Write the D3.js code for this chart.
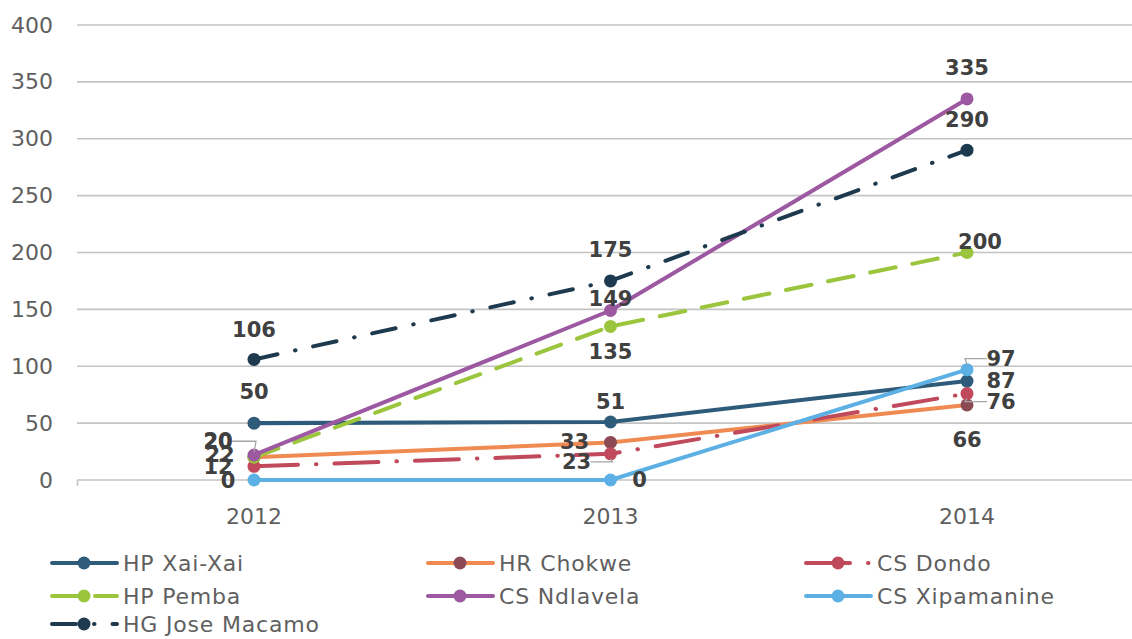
<!DOCTYPE html>
<html>
<head>
<meta charset="utf-8">
<script src="https://cdn.jsdelivr.net/npm/d3@7"></script>
<style>
  html, body { margin: 0; padding: 0; background: #fff; }
  svg { display: block; }
</style>
</head>
<body>
<svg id="chart" width="1132" height="639"></svg>
<script>
// ---- data ----
const years = ["2012", "2013", "2014"];
const seriesNames = ["HP Xai-Xai", "HR Chokwe", "CS Dondo", "HP Pemba", "CS Ndlavela", "CS Xipamanine", "HG Jose Macamo"];
const xaiXai     = [50, 51, 87];
const chokwe     = [20, 33, 66];
const dondo      = [12, 23, 76];
const pemba      = [20, 135, 200];
const ndlavela   = [22, 149, 335];
const xipamanine = [0, 0, 97];
const joseMacamo = [106, 175, 290];
const yTicks = [0, 50, 100, 150, 200, 250, 300, 350, 400];

const seriesValues = [xaiXai, chokwe, dondo, pemba, ndlavela, xipamanine, joseMacamo];

// ---- styles (layout, not data) ----
const styles = [
  { line: "#2E5B7A", marker: "#2E5B7A", dash: null },
  { line: "#EE8A52", marker: "#8B4A54", dash: null },
  { line: "#C0495B", marker: "#C0495B", dash: "44 18 0.5 18" },
  { line: "#9BC53D", marker: "#9BC53D", dash: "26 17" },
  { line: "#9C58A1", marker: "#9C58A1", dash: null },
  { line: "#5DB0E3", marker: "#5DB0E3", dash: null },
  { line: "#1E3A4E", marker: "#1E3A4E", dash: "24 18 0.5 18" }
];
// label offsets [dx, dy] relative to each point
const labelOffsets = [
  [[0, -31], [0, -20], [34, 0]],
  [[-36, -15], [-36, 0], [0, 35]],
  [[-36, 1], [-34, 8], [34, 8]],
  [[-36, -16], [0, 26], [13, -11]],
  [[-34, 0], [0, -12], [0, -31]],
  [[-26, 1], [29, 0], [34, -11]],
  [[0, -29], [0, -31], [0, -30]]
];
const leaders = { "3-0": true, "2-1": true, "5-2": true, "2-2": true };

const svg = d3.select("#chart");
const W = 1132;

const x = d3.scalePoint().domain(years).range([254, 967]);
const y = d3.scaleLinear().domain([0, 400]).range([480, 25]);

// gridlines
svg.append("g").selectAll("line").data(yTicks).join("line")
  .attr("x1", 77).attr("x2", W)
  .attr("y1", d => y(d)).attr("y2", d => y(d))
  .attr("stroke", "#C4C4C4").attr("stroke-width", 1.6);
svg.append("line").attr("x1", 77.5).attr("x2", 77.5)
  .attr("y1", y(0)).attr("y2", y(0) + 6)
  .attr("stroke", "#C4C4C4").attr("stroke-width", 1.6);

// y axis labels
svg.append("g").selectAll("text").data(yTicks).join("text")
  .attr("x", 53).attr("y", d => y(d))
  .attr("text-anchor", "end").attr("dominant-baseline", "central")
  .attr("font-family", "DejaVu Sans").attr("font-size", 22)
  .attr("fill", "#5f5f5f")
  .text(d => d);

// x axis labels
svg.append("g").selectAll("text").data(years).join("text")
  .attr("x", d => x(d)).attr("y", 516)
  .attr("text-anchor", "middle").attr("dominant-baseline", "central")
  .attr("font-family", "DejaVu Sans").attr("font-size", 22)
  .attr("fill", "#5f5f5f")
  .text(d => d);

// lines
const lineGen = d3.line().x((d, i) => x(years[i])).y(d => y(d));
const plot = svg.append("g");
seriesValues.forEach((vals, s) => {
  const st = styles[s];
  const g = plot.append("g");
  g.append("path").datum(vals)
    .attr("d", lineGen)
    .attr("fill", "none")
    .attr("stroke", st.line)
    .attr("stroke-width", 4)
    .attr("stroke-linecap", "round")
    .attr("stroke-linejoin", "round")
    .attr("stroke-dasharray", st.dash);
  g.selectAll("circle").data(vals).join("circle")
    .attr("cx", (d, i) => x(years[i]))
    .attr("cy", d => y(d))
    .attr("r", 6.5)
    .attr("fill", st.marker);
});

// leader lines and data labels
const labels = svg.append("g");
seriesValues.forEach((vals, s) => {
  vals.forEach((v, i) => {
    const px = x(years[i]), py = y(v);
    const [dx, dy] = labelOffsets[s][i];
    const lx = px + dx, ly = py + dy;
    if (leaders[s + "-" + i]) {
      const side = dx < 0 ? 1 : -1;
      labels.append("path")
        .attr("d", `M${lx + side * 14},${ly} L${px + side * 2},${ly} L${px},${py - (dy < 0 ? 5 : -5)}`)
        .attr("fill", "none").attr("stroke", "#A6A6A6").attr("stroke-width", 1.3);
    }
    labels.append("text")
      .attr("x", lx).attr("y", ly)
      .attr("text-anchor", "middle").attr("dominant-baseline", "central")
      .attr("font-family", "DejaVu Sans").attr("font-weight", "bold")
      .attr("font-size", 21).attr("fill", "#404040")
      .text(v);
  });
});

// legend
const legendCols = [52, 428, 806];
const legendRows = [563, 596, 624];
const legend = svg.append("g");
seriesNames.forEach((name, s) => {
  const col = s % 3, row = Math.floor(s / 3);
  const lx = legendCols[col], ly = legendRows[row];
  const st = styles[s];
  const g = legend.append("g");
  g.append("line")
    .attr("x1", lx).attr("x2", lx + 65).attr("y1", ly).attr("y2", ly)
    .attr("stroke", st.line).attr("stroke-width", 4)
    .attr("stroke-linecap", "round")
    .attr("stroke-dasharray", st.dash);
  g.append("circle").attr("cx", lx + 32).attr("cy", ly).attr("r", 6.5).attr("fill", st.marker);
  g.append("text")
    .attr("x", lx + 71).attr("y", ly)
    .attr("dominant-baseline", "central")
    .attr("font-family", "DejaVu Sans").attr("font-size", 22)
    .attr("letter-spacing", 0.8)
    .attr("fill", "#5f5f5f")
    .text(name);
});
</script>
</body>
</html>
